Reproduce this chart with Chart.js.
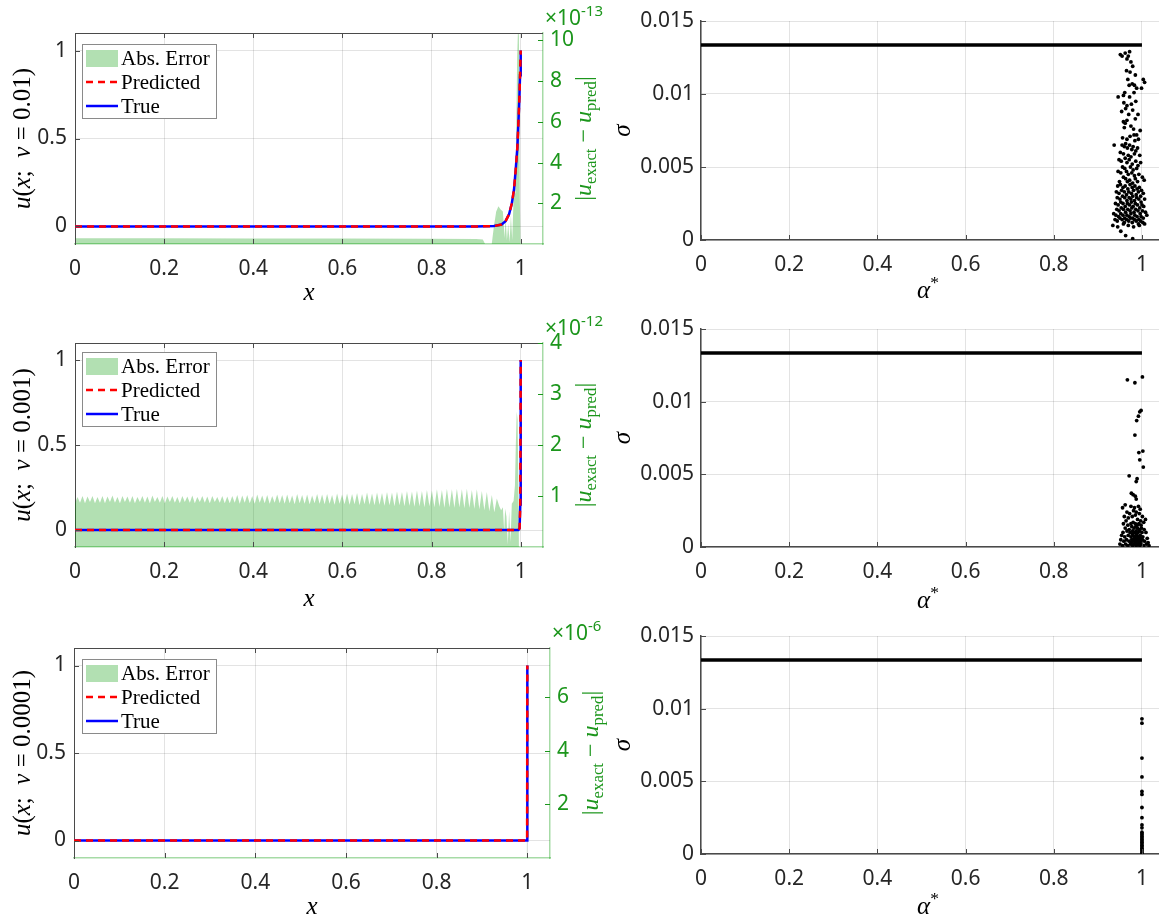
<!DOCTYPE html>
<html>
<head>
<meta charset="utf-8">
<title>Boundary layer solutions</title>
<script src="https://cdn.jsdelivr.net/npm/chart.js@4.4.1/dist/chart.umd.min.js"></script>
<style>
  html, body { margin: 0; padding: 0; background: #fff; overflow: hidden; width: 1159px; height: 920px; }
  canvas { position: absolute; }
</style>
</head>
<body>
<canvas id="solNu1" width="640" height="305" style="left:0;top:0"></canvas>
<canvas id="solNu2" width="640" height="305" style="left:0;top:305px"></canvas>
<canvas id="solNu3" width="640" height="310" style="left:0;top:610px"></canvas>
<canvas id="sigNu1" width="570" height="305" style="left:600px;top:0"></canvas>
<canvas id="sigNu2" width="570" height="305" style="left:600px;top:305px"></canvas>
<canvas id="sigNu3" width="570" height="310" style="left:600px;top:610px"></canvas>
<script>
// ---- data -------------------------------------------------------------
const xTickVals = [0, 0.2, 0.4, 0.6, 0.8, 1];
const uTickVals = [0, 0.5, 1];
const sigmaTickVals = [0, 0.005, 0.01, 0.015];
const sigmaBound = 0.01335;

const nuLabels = ['0.01', '0.001', '0.0001'];
const errExponents = ['-13', '-12', '-6'];
const errTicks1 = [2, 4, 6, 8, 10];
const errTicks2 = [1, 2, 3, 4];
const errTicks3 = [2, 4, 6];

// u(x) for nu = 0.01, 0.001, 0.0001 (predicted and true coincide at this scale)
const uX1 = [0, 0.9, 0.94, 0.957, 0.966, 0.974, 0.98, 0.985, 0.989, 0.9925, 0.995, 0.997, 0.9985, 1.0];
const uTrue1 = [0, 0, 0.002, 0.011, 0.03, 0.07, 0.13, 0.21, 0.33, 0.45, 0.6, 0.73, 0.86, 1.0];
const uPred1 = [0, 0, 0.002, 0.011, 0.03, 0.07, 0.13, 0.21, 0.33, 0.45, 0.6, 0.73, 0.86, 1.0];
const uX2 = [0, 0.995, 0.9975, 0.999, 1.0];
const uTrue2 = [0, 0, 0.01, 0.15, 1.0];
const uPred2 = [0, 0, 0.01, 0.15, 1.0];
const uX3 = [0, 0.9995, 1.0];
const uTrue3 = [0, 0, 1.0];
const uPred3 = [0, 0, 1.0];

// |u_exact - u_pred|, nu = 0.01 (x1e-13)
const errX1 = [0, 0.2, 0.4, 0.6, 0.8, 0.9, 0.915, 0.92, 0.935, 0.94, 0.945, 0.95, 0.955, 0.96, 0.964, 0.966, 0.969, 0.972, 0.975, 0.978, 0.981, 0.984, 0.986, 0.988, 0.99, 0.992, 0.994, 0.996, 0.998, 1.0];
const errY1 = [0.28, 0.28, 0.27, 0.27, 0.26, 0.25, 0.22, 0.0, 0.0, 0.9, 1.6, 1.85, 1.7, 1.6, 0.3, 1.3, 0.2, 1.0, 0.1, 1.4, 0.2, 2.3, 2.4, 2.5, 5.5, 9.2, 10.6, 10.2, 2.2, 0.0];

// nu = 0.001 (x1e-12): oscillating plateau sampled as trough/peak pairs, then the spike near x = 1
const midErrStep = 0.0112;
const midErrTroughs = [
  0.86, 0.87, 0.86, 0.88, 0.86, 0.87, 0.86, 0.88, 0.87, 0.86, 0.88, 0.87, 0.86, 0.88, 0.87, 0.86,
  0.88, 0.87, 0.86, 0.88, 0.87, 0.86, 0.88, 0.87, 0.86, 0.88, 0.87, 0.86, 0.88, 0.87, 0.86,
  0.86, 0.87, 0.85, 0.87, 0.86, 0.85, 0.87, 0.86, 0.85, 0.87, 0.86, 0.85, 0.86, 0.84, 0.86,
  0.85, 0.84, 0.86, 0.85, 0.84, 0.85, 0.83, 0.85, 0.84, 0.83, 0.84, 0.82, 0.84, 0.83, 0.82,
  0.83, 0.81, 0.82, 0.80, 0.82, 0.80, 0.81, 0.79, 0.80, 0.78, 0.80, 0.78, 0.79, 0.77, 0.78,
  0.77, 0.78, 0.76, 0.77, 0.75, 0.74, 0.72, 0.70, 0.68
];
const midErrPeaks = [
  0.98, 1.00, 0.99, 1.00, 0.98, 1.00, 0.99, 1.01, 0.98, 1.00, 0.99, 1.00, 0.98, 1.00, 0.99, 1.01,
  0.98, 1.00, 0.99, 1.00, 0.98, 1.00, 0.99, 1.01, 0.98, 1.00, 0.99, 1.00, 0.98, 1.00, 0.99,
  1.00, 1.02, 1.01, 1.02, 1.00, 1.03, 1.01, 1.02, 1.00, 1.03, 1.02, 1.03, 1.01, 1.04, 1.02,
  1.03, 1.01, 1.04, 1.03, 1.04, 1.02, 1.05, 1.03, 1.05, 1.04, 1.06, 1.04, 1.07, 1.05, 1.07,
  1.06, 1.08, 1.07, 1.09, 1.08, 1.10, 1.09, 1.11, 1.10, 1.12, 1.11, 1.13, 1.12, 1.14, 1.13,
  1.14, 1.13, 1.14, 1.12, 1.13, 1.10, 1.08, 1.02, 0.95
];
const midErrTailX = [0.952, 0.956, 0.96, 0.963, 0.965, 0.968, 0.971, 0.974, 0.977, 0.98, 0.984, 0.987, 0.989, 0.991, 0.993, 0.995, 0.996, 1.0];
const midErrTailY = [0.80, 0.72, 0.78, 0.3, 0.75, 0.6, 0.05, 0.7, 0.1, 0.85, 0.9, 1.2, 2.0, 2.65, 2.5, 1.0, 0.0, 0.0];

// nu = 0.0001 (x1e-6)
const errX3 = [0, 0.99, 0.998, 0.999, 1.0];
const errY3 = [0, 0, 0, 0.6, 0.6];

// (alpha*, sigma) samples per nu
const sigmaPts1 = [
  [0.951, 0.0127], [0.955, 0.0126], [0.962, 0.0128], [0.966, 0.0124], [0.969, 0.0126], [0.972, 0.0129], [0.975, 0.0122],
  [0.979, 0.0119], [0.985, 0.0113], [0.965, 0.0116], [0.973, 0.0115], [0.968, 0.0110], [0.971, 0.0106], [0.978, 0.0107],
  [0.983, 0.0106], [0.988, 0.0104], [1.003, 0.0110], [1.006, 0.0108], [0.999, 0.0104], [0.961, 0.0101], [0.958, 0.0099],
  [0.972, 0.0098], [0.982, 0.0101], [0.946, 0.0098], [0.959, 0.0094], [0.966, 0.0092], [0.976, 0.0093], [0.986, 0.0095],
  [0.963, 0.0090], [0.979, 0.0089], [0.954, 0.0088], [0.970, 0.0086], [0.991, 0.0086], [0.985, 0.0083], [0.958, 0.0081],
  [0.962, 0.0080], [0.966, 0.0082], [0.975, 0.0078], [0.981, 0.0076], [0.960, 0.0077], [0.996, 0.0075], [0.988, 0.0072],
  [0.973, 0.0071], [0.982, 0.0072], [0.956, 0.0070], [0.966, 0.0069], [0.992, 0.0069], [0.984, 0.0068],
  [0.937, 0.0065], [0.955, 0.0065], [0.960, 0.0064], [0.963, 0.0066], [0.967, 0.0063], [0.972, 0.0065], [0.977, 0.0062],
  [0.980, 0.0064], [0.986, 0.0061], [0.990, 0.0063], [0.951, 0.0060], [0.958, 0.0059], [0.969, 0.0058], [0.975, 0.0057],
  [0.983, 0.0059], [0.995, 0.0058], [0.948, 0.0055], [0.953, 0.0054], [0.962, 0.0056], [0.966, 0.0053], [0.971, 0.0055],
  [0.978, 0.0052], [0.986, 0.0054], [0.991, 0.0051], [0.997, 0.0053], [0.956, 0.0050], [0.961, 0.0049], [0.974, 0.0050],
  [0.980, 0.0048], [0.988, 0.0049], [0.946, 0.0047], [0.952, 0.0046], [0.965, 0.0047], [0.969, 0.0045], [0.977, 0.0046],
  [0.983, 0.0044], [0.993, 0.0045], [1.001, 0.0043], [0.958, 0.0043], [0.963, 0.0042], [0.972, 0.0041], [0.985, 0.0042],
  [0.949, 0.0040], [0.967, 0.0040], [0.979, 0.0039], [0.990, 0.0040], [1.005, 0.0041],
  [0.945, 0.0037], [0.951, 0.0038], [0.957, 0.0036], [0.962, 0.0037], [0.968, 0.0035], [0.973, 0.0038], [0.978, 0.0036],
  [0.984, 0.0037], [0.989, 0.0035], [0.994, 0.0036], [0.999, 0.0034], [0.942, 0.0033], [0.948, 0.0032], [0.954, 0.0034],
  [0.960, 0.0033], [0.965, 0.0031], [0.970, 0.0033], [0.976, 0.0032], [0.981, 0.0034], [0.987, 0.0031], [0.992, 0.0033],
  [0.997, 0.0030], [1.003, 0.0032], [0.944, 0.0029], [0.950, 0.0028], [0.956, 0.0030], [0.961, 0.0029], [0.966, 0.0027],
  [0.971, 0.0029], [0.975, 0.0028], [0.979, 0.0030], [0.983, 0.0027], [0.988, 0.0029], [0.993, 0.0028], [0.998, 0.0026],
  [1.006, 0.0028], [0.940, 0.0025], [0.946, 0.0024], [0.952, 0.0026], [0.957, 0.0025], [0.962, 0.0023], [0.967, 0.0025],
  [0.972, 0.0024], [0.976, 0.0026], [0.980, 0.0023], [0.985, 0.0025], [0.990, 0.0024], [0.995, 0.0022], [1.000, 0.0024],
  [1.004, 0.0023], [0.943, 0.0021], [0.948, 0.0020], [0.953, 0.0022], [0.958, 0.0021], [0.963, 0.0019], [0.968, 0.0021],
  [0.973, 0.0020], [0.977, 0.0022], [0.982, 0.0019], [0.986, 0.0021], [0.991, 0.0020], [0.996, 0.0018], [1.001, 0.0020],
  [1.008, 0.0019], [0.936, 0.0018], [0.941, 0.0017], [0.947, 0.0016], [0.952, 0.0018], [0.957, 0.0017], [0.961, 0.0015],
  [0.966, 0.0017], [0.971, 0.0016], [0.975, 0.0018], [0.979, 0.0015], [0.984, 0.0017], [0.989, 0.0016], [0.993, 0.0014],
  [0.998, 0.0016], [1.003, 0.0015], [1.011, 0.0017], [0.939, 0.0014], [0.944, 0.0013], [0.950, 0.0015], [0.955, 0.0014],
  [0.960, 0.0012], [0.965, 0.0014], [0.970, 0.0013], [0.974, 0.0015], [0.978, 0.0012], [0.983, 0.0014], [0.987, 0.0013],
  [0.992, 0.0011], [0.997, 0.0013], [1.002, 0.0012], [0.934, 0.0010], [0.945, 0.0009], [0.958, 0.0011], [0.969, 0.0010],
  [0.981, 0.0009], [0.994, 0.0010], [1.006, 0.0011], [0.952, 0.0006], [0.963, 0.0003], [0.979, 0.0001]
];
const sigmaPts2 = [
  [0.967, 0.0115], [0.984, 0.0113], [1.001, 0.0117], [0.995, 0.0093], [0.998, 0.0094], [0.992, 0.0090], [0.988, 0.0087],
  [0.984, 0.0077], [0.993, 0.0065], [1.002, 0.0066], [0.995, 0.0060], [1.003, 0.0055], [0.971, 0.0049], [0.989, 0.0047],
  [0.987, 0.0045], [0.976, 0.0037], [0.980, 0.0036], [0.985, 0.0035], [0.987, 0.0033],
  [0.956, 0.0027], [0.962, 0.0029], [0.975, 0.0028], [0.983, 0.0027], [0.992, 0.0028], [0.996, 0.0026], [0.981, 0.0025],
  [0.987, 0.0024], [0.966, 0.0024], [0.972, 0.0023], [0.994, 0.0023], [0.960, 0.0021], [0.969, 0.0020], [0.978, 0.0021],
  [0.985, 0.0022], [1.001, 0.0021], [1.008, 0.0019], [0.964, 0.0018], [0.990, 0.0019], [0.997, 0.0018], [1.004, 0.0017],
  [0.958, 0.0016], [0.968, 0.0015], [0.975, 0.0016], [0.980, 0.0017], [0.985, 0.0016], [0.989, 0.0015], [0.993, 0.0016],
  [0.998, 0.0015], [0.962, 0.0013], [0.971, 0.0012], [0.977, 0.0014], [0.982, 0.0013], [0.986, 0.0014], [0.990, 0.0013],
  [0.994, 0.0012], [0.999, 0.0013], [1.005, 0.0012], [0.957, 0.0010], [0.966, 0.0011], [0.973, 0.0010], [0.979, 0.0011],
  [0.983, 0.0010], [0.987, 0.0011], [0.991, 0.0010], [0.995, 0.0011], [1.000, 0.0010], [1.009, 0.0010], [0.954, 0.0008],
  [0.961, 0.0007], [0.969, 0.0008], [0.975, 0.0007], [0.980, 0.0008], [0.984, 0.0007], [0.988, 0.0008], [0.992, 0.0007],
  [0.996, 0.0008], [1.002, 0.0007], [1.012, 0.0006], [0.952, 0.0005], [0.959, 0.0004], [0.965, 0.0005], [0.971, 0.0004],
  [0.977, 0.0005], [0.981, 0.0004], [0.985, 0.0005], [0.989, 0.0004], [0.993, 0.0005], [0.997, 0.0004], [1.001, 0.0005],
  [1.006, 0.0004], [1.014, 0.0003], [0.950, 0.0002], [0.956, 0.0001], [0.963, 0.0002], [0.968, 0.0001], [0.974, 0.0002],
  [0.979, 0.0001], [0.983, 0.0002], [0.987, 0.0001], [0.991, 0.0002], [0.995, 0.0001], [0.999, 0.0002], [1.004, 0.0001],
  [1.010, 0.0002], [1.016, 0.0001], [0.976, 0.0003], [0.982, 0.0006], [0.986, 0.0003], [0.990, 0.0006], [0.994, 0.0003],
  [0.978, 0.0009], [0.988, 0.0009], [0.997, 0.0006]
];
const sigmaPts3 = [
  [1.0, 0.0093], [1.0, 0.0090], [1.0, 0.0066], [1.0, 0.0053], [1.0, 0.0043], [1.0, 0.0041], [1.0, 0.0032],
  [1.0, 0.0025], [1.0, 0.0020], [1.0, 0.0018], [1.0, 0.0015], [1.0, 0.0014], [1.0, 0.0013], [1.0, 0.0012],
  [1.0, 0.0011], [1.0, 0.0010], [1.0, 0.0009], [1.0, 0.0008], [1.0, 0.0007], [1.0, 0.0006], [1.0, 0.0005],
  [1.0, 0.0004], [1.0, 0.0003], [1.0, 0.0002], [1.0, 0.0001], [1.0, 0.0000]
];

// ---- styling ----------------------------------------------------------
const AXIS_GREY = '#4a4a4a';
const GRID_GREY = 'rgba(0,0,0,0.11)';
const TEXT_DARK = '#262626';
const ERR_GREEN = 'rgb(28,150,28)';
const ERR_FILL = 'rgba(0,153,0,0.3)';
const ERR_EDGE = 'rgba(0,153,0,0.35)';
const SANS = '"Noto Sans", "Open Sans", sans-serif';
const SERIF = '"Liberation Serif", "DejaVu Serif", serif';
const TICK_FONT = { family: SANS, size: 21 };
const LEFT_W = 640;

const zip = (xs, ys) => xs.map((x, i) => ({ x, y: ys[i] }));
const fixedTicks = vals => scale => { scale.ticks = vals.map(v => ({ value: v })); };

const midErrPts = [];
midErrTroughs.forEach((v, i) => {
    midErrPts.push({ x: i * midErrStep, y: v });
    midErrPts.push({ x: (i + 0.5) * midErrStep, y: midErrPeaks[i] });
});
midErrPts.push(...zip(midErrTailX, midErrTailY));

// draws a run of math-ish text: [text, style] with style 'i' italic, 'r' roman, 'sub', 'sup'
function drawRich(ctx, parts, cx, cy, rot, size, color) {
    const fontFor = p => {
        const small = p[1] === 'sub' || p[1] === 'sup';
        return (p[1] === 'i' ? 'italic ' : '') + (small ? size * 0.7 : size) + 'px ' + SERIF;
    };
    ctx.save();
    ctx.translate(cx, cy);
    ctx.rotate(rot);
    ctx.fillStyle = color;
    ctx.textBaseline = 'alphabetic';
    ctx.textAlign = 'left';
    let total = 0;
    parts.forEach(p => { ctx.font = fontFor(p); total += ctx.measureText(p[0]).width; });
    let x = -total / 2;
    parts.forEach(p => {
        ctx.font = fontFor(p);
        const dy = p[1] === 'sub' ? size * 0.22 : p[1] === 'sup' ? -size * 0.42 : 0;
        ctx.fillText(p[0], x, size * 0.28 + dy);
        x += ctx.measureText(p[0]).width;
    });
    ctx.restore();
}

function line(ctx, x1, y1, x2, y2) {
    ctx.beginPath();
    ctx.moveTo(x1, y1);
    ctx.lineTo(x2, y2);
    ctx.stroke();
}

// ---- left column: solution + abs error --------------------------------
function solutionChart(cfg) {
    const decor = {
        id: 'solDecor',
        afterDraw(chart) {
            const { ctx, chartArea: a, scales } = chart;
            ctx.save();
            // top frame + inward ticks
            ctx.lineWidth = 1;
            ctx.strokeStyle = AXIS_GREY;
            line(ctx, a.left, a.top + 0.5, a.right, a.top + 0.5);
            scales.x.ticks.forEach(t => {
                const px = Math.round(scales.x.getPixelForValue(t.value)) + 0.5;
                line(ctx, px, a.bottom, px, a.bottom - 5);
                line(ctx, px, a.top, px, a.top + 5);
            });
            scales.y.ticks.forEach(t => {
                const py = Math.round(scales.y.getPixelForValue(t.value)) + 0.5;
                line(ctx, a.left, py, a.left + 5, py);
            });
            ctx.strokeStyle = ERR_GREEN;
            scales.y1.ticks.forEach(t => {
                const py = Math.round(scales.y1.getPixelForValue(t.value)) + 0.5;
                line(ctx, a.right, py, a.right - 5, py);
            });

            // legend
            const lx = 82, ly = cfg.legendTop, lw = 134, lh = 74;
            ctx.fillStyle = '#fff';
            ctx.fillRect(lx, ly, lw, lh);
            ctx.strokeStyle = '#8a8a8a';
            ctx.strokeRect(lx + 0.5, ly + 0.5, lw, lh);
            ctx.font = '21px ' + SERIF;
            ctx.textBaseline = 'middle';
            ctx.textAlign = 'left';
            chart.data.datasets.forEach((ds, i) => {
                const cy = ly + 14 + i * 24;
                if (ds.fill) {
                    ctx.fillStyle = ds.backgroundColor;
                    ctx.fillRect(lx + 4, cy - 8, 32, 17);
                } else {
                    ctx.strokeStyle = ds.borderColor;
                    ctx.lineWidth = 2.5;
                    ctx.setLineDash(ds.borderDash || []);
                    line(ctx, lx + 4, cy, lx + 36, cy);
                    ctx.setLineDash([]);
                }
                ctx.fillStyle = '#000';
                ctx.fillText(ds.label, lx + 39, cy + 1);
            });

            // axis titles
            const midY = (a.top + a.bottom) / 2;
            drawRich(ctx, [['u', 'i'], ['(', 'r'], ['x', 'i'], [';  ', 'r'], ['ν', 'i'], [' = ', 'r'], [cfg.nu, 'r'], [')', 'r']],
                23, midY, -Math.PI / 2, 25, '#000');
            drawRich(ctx, [['x', 'i']], (a.left + a.right) / 2, cfg.xTitleY, 0, 25, '#000');
            drawRich(ctx, [['|', 'r'], ['u', 'i'], ['exact', 'sub'], [' − ', 'r'], ['u', 'i'], ['pred', 'sub'], ['|', 'r']],
                a.right + 41, midY, -Math.PI / 2, 24, ERR_GREEN);

            // exponent of the error axis
            ctx.fillStyle = ERR_GREEN;
            ctx.textBaseline = 'alphabetic';
            ctx.font = '21px ' + SANS;
            const ex = a.right + 2, ey = a.top - 8;
            ctx.fillText('×10', ex, ey);
            const w = ctx.measureText('×10').width;
            ctx.font = '15px ' + SANS;
            ctx.fillText(cfg.exp, ex + w, ey - 9);
            ctx.restore();
        }
    };

    const H = cfg.height;
    return new Chart(document.getElementById(cfg.id), {
        type: 'line',
        data: {
            datasets: [
                { label: 'Abs. Error', data: cfg.err, yAxisID: 'y1', fill: 'origin', backgroundColor: ERR_FILL,
                  borderColor: 'rgba(0,0,0,0)', borderWidth: 0, pointRadius: 0, tension: 0, order: 3 },
                { label: 'Predicted', data: cfg.pred, yAxisID: 'y', borderColor: '#ff0000', borderDash: [7, 5],
                  borderWidth: 2.5, pointRadius: 0, tension: 0, fill: false, order: 1 },
                { label: 'True', data: cfg.truth, yAxisID: 'y', borderColor: '#0000ff',
                  borderWidth: 2.5, pointRadius: 0, tension: 0, fill: false, order: 2 }
            ]
        },
        options: {
            responsive: false,
            animation: false,
            devicePixelRatio: 1,
            layout: { padding: { top: cfg.area.top, left: 0, right: 0, bottom: 0 } },
            plugins: { legend: { display: false }, tooltip: { enabled: false } },
            scales: {
                x: {
                    type: 'linear', min: 0, max: 1.05,
                    afterBuildTicks: fixedTicks(xTickVals),
                    afterFit: s => { s.height = H - cfg.area.bottom; },
                    grid: { color: GRID_GREY, drawTicks: false },
                    border: { color: ERR_EDGE, width: 1.5 },
                    ticks: { font: TICK_FONT, color: TEXT_DARK, padding: 12, maxRotation: 0, autoSkip: false, callback: v => String(v) }
                },
                y: {
                    position: 'left', min: -0.1, max: 1.1,
                    afterBuildTicks: fixedTicks(uTickVals),
                    afterFit: s => { s.width = cfg.area.left; },
                    grid: { color: GRID_GREY, drawTicks: false },
                    border: { color: AXIS_GREY, width: 1 },
                    ticks: { font: TICK_FONT, color: TEXT_DARK, padding: 8, callback: v => String(v) }
                },
                y1: {
                    position: 'right', min: 0, max: cfg.errMax,
                    afterBuildTicks: fixedTicks(cfg.errTicks),
                    afterFit: s => { s.width = LEFT_W - cfg.area.right; },
                    grid: { display: false, drawTicks: false },
                    border: { color: ERR_EDGE, width: 1.5 },
                    ticks: { font: TICK_FONT, color: ERR_GREEN, padding: 7, callback: v => String(v) }
                }
            }
        },
        plugins: [decor]
    });
}

// ---- right column: sigma vs alpha* -----------------------------------
function sigmaChart(cfg) {
    const decor = {
        id: 'sigDecor',
        afterDraw(chart) {
            const { ctx, chartArea: a, scales } = chart;
            ctx.save();
            ctx.lineWidth = 1;
            ctx.strokeStyle = AXIS_GREY;
            scales.x.ticks.forEach(t => {
                const px = Math.round(scales.x.getPixelForValue(t.value)) + 0.5;
                line(ctx, px, a.bottom, px, a.bottom - 5);
            });
            scales.y.ticks.forEach(t => {
                const py = Math.round(scales.y.getPixelForValue(t.value)) + 0.5;
                line(ctx, a.left, py, a.left + 5, py);
            });
            drawRich(ctx, [['σ', 'i']], 23, (a.top + a.bottom) / 2, -Math.PI / 2, 25, '#000');
            drawRich(ctx, [['α', 'i'], ['*', 'sup']], 328, cfg.xTitleY, 0, 25, '#000');
            ctx.restore();
        }
    };

    const H = cfg.height;
    return new Chart(document.getElementById(cfg.id), {
        type: 'scatter',
        data: {
            datasets: [
                { label: 'bound', data: [{ x: 0, y: sigmaBound }, { x: 1, y: sigmaBound }], showLine: true,
                  borderColor: '#000', borderWidth: 3.5, pointRadius: 0, order: 1 },
                { label: 'samples', data: cfg.pts.map(p => ({ x: p[0], y: p[1] })), backgroundColor: '#000',
                  borderWidth: 0, pointRadius: 1.9, order: 2 }
            ]
        },
        options: {
            responsive: false,
            animation: false,
            devicePixelRatio: 1,
            layout: { padding: { top: cfg.area.top, left: 0, right: 6, bottom: 0 } },
            plugins: { legend: { display: false }, tooltip: { enabled: false } },
            scales: {
                x: {
                    type: 'linear', min: 0, max: 1.05,
                    afterBuildTicks: fixedTicks(xTickVals),
                    afterFit: s => { s.height = H - cfg.area.bottom; },
                    grid: { color: GRID_GREY, drawTicks: false },
                    border: { color: AXIS_GREY, width: 1.5 },
                    ticks: { font: TICK_FONT, color: TEXT_DARK, padding: 12, maxRotation: 0, autoSkip: false, callback: v => String(v) }
                },
                y: {
                    min: 0, max: 0.015,
                    afterBuildTicks: fixedTicks(sigmaTickVals),
                    afterFit: s => { s.width = 101; },
                    grid: { color: GRID_GREY, drawTicks: false },
                    border: { color: AXIS_GREY, width: 1.5 },
                    ticks: { font: TICK_FONT, color: TEXT_DARK, padding: 7, callback: v => String(v) }
                }
            }
        },
        plugins: [decor]
    });
}

solutionChart({ id: 'solNu1', height: 305, area: { top: 33, bottom: 244, left: 75, right: 543 }, nu: nuLabels[0],
    exp: errExponents[0], errTicks: errTicks1, errMax: 10.36, err: zip(errX1, errY1),
    pred: zip(uX1, uPred1), truth: zip(uX1, uTrue1), legendTop: 44, xTitleY: 293 });
solutionChart({ id: 'solNu2', height: 305, area: { top: 38, bottom: 242, left: 75, right: 543 }, nu: nuLabels[1],
    exp: errExponents[1], errTicks: errTicks2, errMax: 4, err: midErrPts,
    pred: zip(uX2, uPred2), truth: zip(uX2, uTrue2), legendTop: 47, xTitleY: 294 });
solutionChart({ id: 'solNu3', height: 310, area: { top: 38, bottom: 248, left: 74, right: 550 }, nu: nuLabels[2],
    exp: errExponents[2], errTicks: errTicks3, errMax: 7.84, err: zip(errX3, errY3),
    pred: zip(uX3, uPred3), truth: zip(uX3, uTrue3), legendTop: 49, xTitleY: 297 });

sigmaChart({ id: 'sigNu1', height: 305, area: { top: 21, bottom: 240 }, pts: sigmaPts1, xTitleY: 291 });
sigmaChart({ id: 'sigNu2', height: 305, area: { top: 24, bottom: 242 }, pts: sigmaPts2, xTitleY: 296 });
sigmaChart({ id: 'sigNu3', height: 310, area: { top: 26, bottom: 244 }, pts: sigmaPts3, xTitleY: 297 });
</script>
</body>
</html>
